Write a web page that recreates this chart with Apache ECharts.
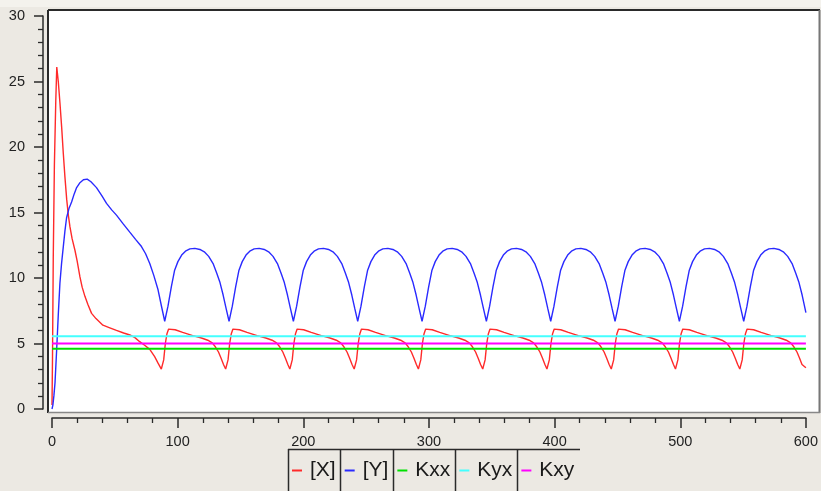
<!DOCTYPE html>
<html><head><meta charset="utf-8">
<script src="https://cdn.jsdelivr.net/npm/echarts@6/dist/echarts.min.js"></script>
<style>html,body{margin:0;padding:0;background:#ece9e3;} #c{width:821px;height:491px;}</style>
</head><body><div id="c"></div>
<script>
const seriesNames = ['[X]', '[Y]', 'Kxx', 'Kyx', 'Kxy'];
const seriesColors = ['#ff2a2a', '#2a2aff', '#00e000', '#44ffff', '#ff00ff'];

// [X] (red) — time and value
const xTime = [
  0, 0.4, 1.0, 1.9, 3.0, 3.8, 4.4, 5.0, 6.3, 7.7, 9.0, 10.3, 11.7, 13.0, 14.3, 16.0, 18.3, 20.0, 22.2, 24.0, 26.2, 28.5, 31.5, 35.0, 40.5, 46.0, 51.3, 57.0, 62.0, 66.0, 69.8, 74.0, 77.8, 81.7, 84.4,
  87.0, 88.9, 90.2, 91.5, 92.8, 94.2, 98.0, 104.0, 112.0, 119.0, 124.0, 127.5, 130.0, 132.5, 134.5, 136.5,
  138.2, 140.1, 141.4, 142.7, 144.0, 145.4, 149.2, 155.2, 163.2, 170.2, 175.2, 178.7, 181.2, 183.7, 185.7, 187.7,
  189.3, 191.2, 192.5, 193.8, 195.1, 196.5, 200.3, 206.3, 214.3, 221.3, 226.3, 229.8, 232.3, 234.8, 236.8, 238.8,
  240.5, 242.4, 243.7, 245.0, 246.3, 247.7, 251.5, 257.5, 265.5, 272.5, 277.5, 281.0, 283.5, 286.0, 288.0, 290.0,
  291.6, 293.5, 294.8, 296.1, 297.4, 298.8, 302.6, 308.6, 316.6, 323.6, 328.6, 332.1, 334.6, 337.1, 339.1, 341.1,
  342.8, 344.7, 346.0, 347.3, 348.6, 350.0, 353.8, 359.8, 367.8, 374.8, 379.8, 383.3, 385.8, 388.3, 390.3, 392.3,
  393.9, 395.8, 397.1, 398.4, 399.7, 401.1, 404.9, 410.9, 418.9, 425.9, 430.9, 434.4, 436.9, 439.4, 441.4, 443.4,
  445.1, 447.0, 448.3, 449.6, 450.9, 452.3, 456.1, 462.1, 470.1, 477.1, 482.1, 485.6, 488.1, 490.6, 492.6, 494.6,
  496.2, 498.1, 499.4, 500.7, 502.0, 503.4, 507.2, 513.2, 521.2, 528.2, 533.2, 536.7, 539.2, 541.7, 543.7, 545.7,
  547.4, 549.3, 550.6, 551.9, 553.2, 554.6, 558.4, 564.4, 572.4, 579.4, 584.4, 587.9, 590.4, 592.9, 594.9, 596.9,
  600.0
];
const xVal = [
  0.3, 3.9, 11.5, 18.6, 23.5, 26.1, 26.0, 25.0, 23.4, 21.5, 19.5, 17.7, 16.0, 14.8, 13.9, 13.0, 12.1, 11.3, 10.1, 9.3, 8.6, 8.0, 7.3, 6.9, 6.4, 6.2, 6.0, 5.8, 5.65, 5.45, 5.14, 4.85, 4.55, 4.0, 3.5,
  3.05, 3.75, 5.0, 5.75, 6.1, 6.17, 6.05, 5.85, 5.6, 5.42, 5.25, 5.05, 4.75, 4.35, 3.9, 3.4,
  3.05, 3.75, 5.0, 5.75, 6.1, 6.17, 6.05, 5.85, 5.6, 5.42, 5.25, 5.05, 4.75, 4.35, 3.9, 3.4,
  3.05, 3.75, 5.0, 5.75, 6.1, 6.17, 6.05, 5.85, 5.6, 5.42, 5.25, 5.05, 4.75, 4.35, 3.9, 3.4,
  3.05, 3.75, 5.0, 5.75, 6.1, 6.17, 6.05, 5.85, 5.6, 5.42, 5.25, 5.05, 4.75, 4.35, 3.9, 3.4,
  3.05, 3.75, 5.0, 5.75, 6.1, 6.17, 6.05, 5.85, 5.6, 5.42, 5.25, 5.05, 4.75, 4.35, 3.9, 3.4,
  3.05, 3.75, 5.0, 5.75, 6.1, 6.17, 6.05, 5.85, 5.6, 5.42, 5.25, 5.05, 4.75, 4.35, 3.9, 3.4,
  3.05, 3.75, 5.0, 5.75, 6.1, 6.17, 6.05, 5.85, 5.6, 5.42, 5.25, 5.05, 4.75, 4.35, 3.9, 3.4,
  3.05, 3.75, 5.0, 5.75, 6.1, 6.17, 6.05, 5.85, 5.6, 5.42, 5.25, 5.05, 4.75, 4.35, 3.9, 3.4,
  3.05, 3.75, 5.0, 5.75, 6.1, 6.17, 6.05, 5.85, 5.6, 5.42, 5.25, 5.05, 4.75, 4.35, 3.9, 3.4,
  3.05, 3.75, 5.0, 5.75, 6.1, 6.17, 6.05, 5.85, 5.6, 5.42, 5.25, 5.05, 4.75, 4.35, 3.9, 3.4,
  3.15
];

// [Y] (blue)
const yTime = [
  0, 0.7, 1.5, 2.4, 3.7, 5.0, 6.3, 7.6, 9.0, 10.3, 11.6, 13.5, 15.6, 17.6, 19.6, 22.0, 25.0, 28.0, 31.0, 35.4, 39.5, 43.4, 47.5, 51.3, 56.5, 61.9, 66.5, 71.2, 74.5, 77.8, 81.0, 84.4, 87.0,
  89.7, 92.3, 95.0, 97.6, 100.2, 103.2, 106.2, 109.7, 113.7, 117.7, 121.2, 124.7, 128.2, 131.2, 133.7, 136.2, 138.5,
  140.9, 143.5, 146.2, 148.8, 151.4, 154.4, 157.4, 160.9, 164.9, 168.9, 172.4, 175.9, 179.4, 182.4, 184.9, 187.4, 189.7,
  192.1, 194.7, 197.4, 200.0, 202.6, 205.6, 208.6, 212.1, 216.1, 220.1, 223.6, 227.1, 230.6, 233.6, 236.1, 238.6, 240.9,
  243.3, 245.9, 248.6, 251.2, 253.8, 256.8, 259.8, 263.3, 267.3, 271.3, 274.8, 278.3, 281.8, 284.8, 287.3, 289.8, 292.1,
  294.5, 297.1, 299.8, 302.4, 305.0, 308.0, 311.0, 314.5, 318.5, 322.5, 326.0, 329.5, 333.0, 336.0, 338.5, 341.0, 343.3,
  345.7, 348.3, 351.0, 353.6, 356.2, 359.2, 362.2, 365.7, 369.7, 373.7, 377.2, 380.7, 384.2, 387.2, 389.7, 392.2, 394.5,
  396.9, 399.5, 402.2, 404.8, 407.4, 410.4, 413.4, 416.9, 420.9, 424.9, 428.4, 431.9, 435.4, 438.4, 440.9, 443.4, 445.7,
  448.1, 450.7, 453.4, 456.0, 458.6, 461.6, 464.6, 468.1, 472.1, 476.1, 479.6, 483.1, 486.6, 489.6, 492.1, 494.6, 496.9,
  499.3, 501.9, 504.6, 507.2, 509.8, 512.8, 515.8, 519.3, 523.3, 527.3, 530.8, 534.3, 537.8, 540.8, 543.3, 545.8, 548.1,
  550.5, 553.1, 555.8, 558.4, 561.0, 564.0, 567.0, 570.5, 574.5, 578.5, 582.0, 585.5, 589.0, 592.0, 594.5, 597.0,
  600.0
];
const yVal = [
  0, 0.3, 1.0, 2.0, 4.5, 7.2, 9.6, 11.1, 12.4, 13.6, 14.6, 15.3, 15.8, 16.4, 16.9, 17.25, 17.5, 17.55, 17.35, 16.9, 16.3, 15.7, 15.2, 14.8, 14.15, 13.5, 12.95, 12.4, 11.85, 11.1, 10.2, 9.1, 7.9,
  6.7, 7.85, 9.35, 10.6, 11.25, 11.75, 12.05, 12.22, 12.26, 12.18, 12.0, 11.65, 11.1, 10.35, 9.65, 8.7, 7.7,
  6.7, 7.85, 9.35, 10.6, 11.25, 11.75, 12.05, 12.22, 12.26, 12.18, 12.0, 11.65, 11.1, 10.35, 9.65, 8.7, 7.7,
  6.7, 7.85, 9.35, 10.6, 11.25, 11.75, 12.05, 12.22, 12.26, 12.18, 12.0, 11.65, 11.1, 10.35, 9.65, 8.7, 7.7,
  6.7, 7.85, 9.35, 10.6, 11.25, 11.75, 12.05, 12.22, 12.26, 12.18, 12.0, 11.65, 11.1, 10.35, 9.65, 8.7, 7.7,
  6.7, 7.85, 9.35, 10.6, 11.25, 11.75, 12.05, 12.22, 12.26, 12.18, 12.0, 11.65, 11.1, 10.35, 9.65, 8.7, 7.7,
  6.7, 7.85, 9.35, 10.6, 11.25, 11.75, 12.05, 12.22, 12.26, 12.18, 12.0, 11.65, 11.1, 10.35, 9.65, 8.7, 7.7,
  6.7, 7.85, 9.35, 10.6, 11.25, 11.75, 12.05, 12.22, 12.26, 12.18, 12.0, 11.65, 11.1, 10.35, 9.65, 8.7, 7.7,
  6.7, 7.85, 9.35, 10.6, 11.25, 11.75, 12.05, 12.22, 12.26, 12.18, 12.0, 11.65, 11.1, 10.35, 9.65, 8.7, 7.7,
  6.7, 7.85, 9.35, 10.6, 11.25, 11.75, 12.05, 12.22, 12.26, 12.18, 12.0, 11.65, 11.1, 10.35, 9.65, 8.7, 7.7,
  6.7, 7.85, 9.35, 10.6, 11.25, 11.75, 12.05, 12.22, 12.26, 12.18, 12.0, 11.65, 11.1, 10.35, 9.65, 8.7,
  7.35
];

// constant rate lines
const kTime = [0, 600];
const kxxVal = [4.6, 4.6];
const kyxVal = [5.55, 5.55];
const kxyVal = [5.0, 5.0];

const pairs = (t, v) => t.map((ti, i) => [ti, v[i]]);
const seriesData = [pairs(xTime, xVal), pairs(yTime, yVal), pairs(kTime, kxxVal), pairs(kTime, kyxVal), pairs(kTime, kxyVal)];

const FONT = 'Liberation Sans, Arial, Helvetica, sans-serif';
const chart = echarts.init(document.getElementById('c'), null, {renderer: 'canvas'});

const sepX = [288.5, 340.5, 393.5, 455.5, 517.5];
const dark = '#2a2a2a';
const graphics = [
  {type: 'rect', z: -100, shape: {x: 0, y: 0, width: 821, height: 7}, style: {fill: '#f4f2ed'}},
  {type: 'rect', z: -90, shape: {x: 48, y: 10, width: 772, height: 403}, style: {fill: '#ffffff'}},
  {type: 'line', z: -80, shape: {x1: 48, y1: 10, x2: 820, y2: 10}, style: {stroke: dark, lineWidth: 2}},
  {type: 'line', z: -80, shape: {x1: 48, y1: 10, x2: 48, y2: 413}, style: {stroke: dark, lineWidth: 2}},
  {type: 'line', z: -80, shape: {x1: 819.5, y1: 10, x2: 819.5, y2: 413}, style: {stroke: '#777', lineWidth: 2}},
  {type: 'line', z: -80, shape: {x1: 48, y1: 412.5, x2: 820, y2: 412.5}, style: {stroke: '#888', lineWidth: 1.5}},
  {type: 'line', z: -80, shape: {x1: 288, y1: 449.5, x2: 580, y2: 449.5}, style: {stroke: dark, lineWidth: 1.5}}
].concat(sepX.map(x => ({type: 'line', z: -80, shape: {x1: x, y1: 449, x2: x, y2: 491}, style: {stroke: dark, lineWidth: 1.5}})));

const axisCommon = {
  type: 'value',
  offset: 9,
  splitLine: {show: false},
  axisLine: {show: true, onZero: false, lineStyle: {color: dark, width: 1.5}},
  axisTick: {show: true, inside: false, lineStyle: {color: dark, width: 1.5}},
  minorTick: {show: true, splitNumber: 5, length: 5, lineStyle: {color: dark, width: 1.3}},
  minorSplitLine: {show: false},
  axisLabel: {color: '#222', fontSize: 14.5, fontFamily: FONT, showMinLabel: true, showMaxLabel: true, hideOverlap: false}
};

chart.setOption({
  animation: false,
  backgroundColor: '#ece9e3',
  graphic: {elements: graphics},
  grid: {left: 52, right: 13, top: 16, bottom: 82, containLabel: false},
  xAxis: Object.assign({}, axisCommon, {
    min: 0, max: 600, interval: 100,
    axisTick: Object.assign({}, axisCommon.axisTick, {length: 10}),
    axisLabel: Object.assign({}, axisCommon.axisLabel, {margin: 16})
  }),
  yAxis: Object.assign({}, axisCommon, {
    min: 0, max: 30, interval: 5,
    axisTick: Object.assign({}, axisCommon.axisTick, {length: 9}),
    axisLabel: Object.assign({}, axisCommon.axisLabel, {margin: 18})
  }),
  legend: {
    left: 292, top: 460, padding: 0, itemGap: 9,
    itemWidth: 10, itemHeight: 2, icon: 'rect',
    data: seriesNames,
    selectedMode: false,
    textStyle: {fontSize: 21, color: '#1a1a1a', fontFamily: FONT, padding: [0, 0, 0, 3]}
  },
  series: seriesNames.map((name, i) => ({
    name: name,
    type: 'line',
    data: seriesData[i],
    symbol: 'none',
    smooth: false,
    clip: true,
    color: seriesColors[i],
    lineStyle: {color: seriesColors[i], width: i < 2 ? 1.4 : 2},
    z: 2 + i
  }))
});
</script>
</body></html>
